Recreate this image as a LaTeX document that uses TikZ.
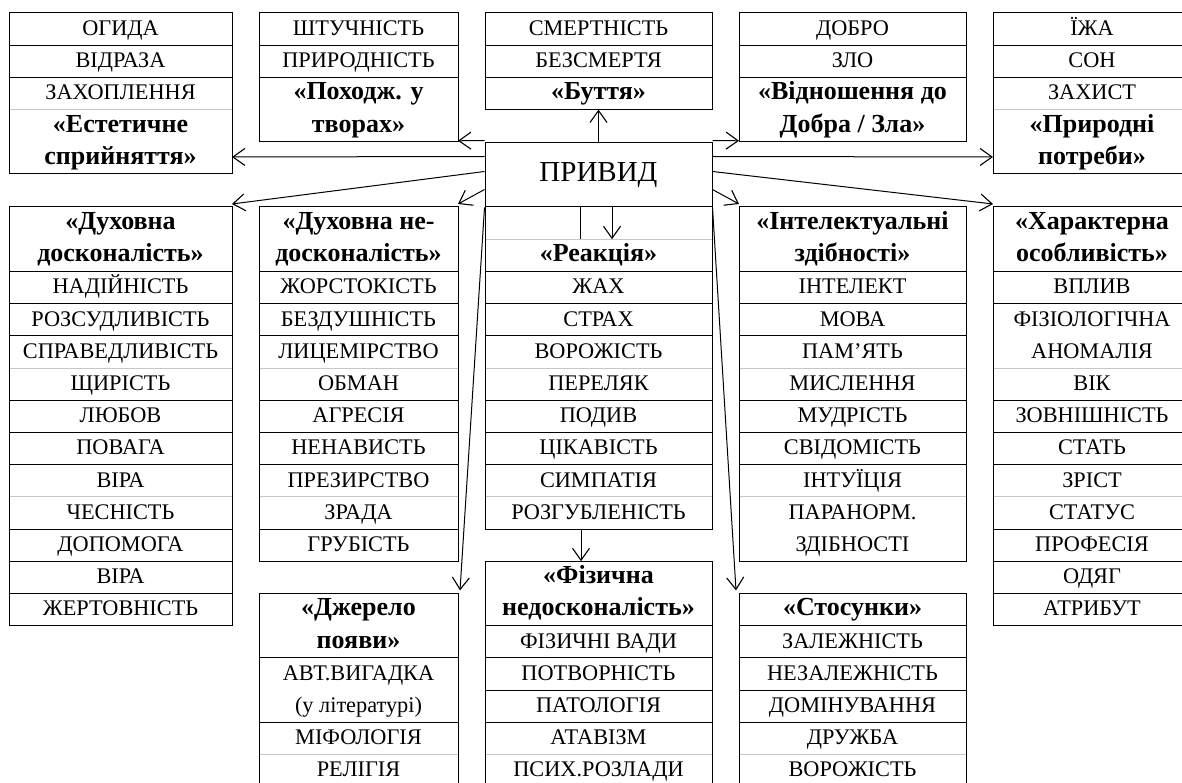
\documentclass[tikz,border=0pt]{standalone}
\usepackage{fontspec}
\setmainfont{Liberation Serif}
\usetikzlibrary{arrows.meta}
\colorlet{lk}{black}
\colorlet{lg}{black!22}
\newcommand\itf{\fontsize{22.3}{32.2}\selectfont}
\newcommand\hdf{\fontsize{26}{32.2}\selectfont\bfseries}
\def\rh{32.2}
\tikzset{
  cell/.style={align=center,inner sep=0pt,outer sep=0pt,anchor=center},
  arr/.style={line width=1pt,-{Straight Barb[length=12pt,width=17pt,line width=1.1pt]}},
  plain/.style={line width=1pt},
}
\newcommand\tcol[5]{%
 \xdef\cy{#4}%
 \foreach \nr/\txt/\fnt/\lcol [count=\i] in {#5}{%
   \pgfmathsetmacro\ny{\cy+\nr*\rh}%
   \node[cell,font=\fnt,minimum width={(#3-#2)*1pt},minimum height={\nr*\rh*1pt}] (#1-\i) at ({(#2+#3)/2},{(\cy+\ny)/2}) {\strut\txt};
   \draw[draw=\lcol,line width=1pt] (#2,\ny) -- (#3,\ny);
   \xdef\cy{\ny}%
 }%
 \draw[line width=1pt] (#2,#4) rectangle (#3,\cy);
}
\begin{document}
\begin{tikzpicture}[x=1pt,y=-1pt]
\useasboundingbox (0,0) rectangle (1182,783);
\clip (0,0) rectangle (1182,783);
\fill[white] (0,0) rectangle (1182,783);
% top row
\tcol{ta}{9}{232}{13}{1/ОГИДА/\itf/lk, 1/ВІДРАЗА/\itf/lk, 1/ЗАХОПЛЕННЯ/\itf/lg, 2/{«Естетичне\\\strut сприйняття»}/\hdf/lk}
\tcol{tb}{259}{458}{13}{1/ШТУЧНІСТЬ/\itf/lk, 1/ПРИРОДНІСТЬ/\itf/lk, 2/{«Походж. у\\\strut творах»}/\hdf/lk}
\tcol{tc}{485}{712}{13}{1/СМЕРТНІСТЬ/\itf/lk, 1/БЕЗСМЕРТЯ/\itf/lk, 1/«Буття»/\hdf/lk}
\tcol{td}{739}{966}{13}{1/ДОБРО/\itf/lk, 1/ЗЛО/\itf/lk, 2/{«Відношення до\\\strut Добра / Зла»}/\hdf/lk}
\tcol{te}{993}{1191}{13}{1/ЇЖА/\itf/lk, 1/СОН/\itf/lk, 1/ЗАХИСТ/\itf/lg, 2/{«Природні\\\strut потреби»}/\hdf/lk}
% second row
\tcol{sa}{9}{232}{207}{2/{«Духовна\\\strut досконалість»}/\hdf/lk, 1/НАДІЙНІСТЬ/\itf/lk, 1/РОЗСУДЛИВІСТЬ/\itf/lk, 1/СПРАВЕДЛИВІСТЬ/\itf/lg, 1/ЩИРІСТЬ/\itf/lk, 1/ЛЮБОВ/\itf/lk, 1/ПОВАГА/\itf/lk, 1/ВІРА/\itf/lg, 1/ЧЕСНІСТЬ/\itf/lk, 1/ДОПОМОГА/\itf/lk, 1/ВІРА/\itf/lk, 1/ЖЕРТОВНІСТЬ/\itf/lk}
\tcol{sb}{259}{458}{207}{2/{«Духовна не-\\\strut досконалість»}/\hdf/lk, 1/ЖОРСТОКІСТЬ/\itf/lk, 1/БЕЗДУШНІСТЬ/\itf/lk, 1/ЛИЦЕМІРСТВО/\itf/lg, 1/ОБМАН/\itf/lk, 1/АГРЕСІЯ/\itf/lk, 1/НЕНАВИСТЬ/\itf/lk, 1/ПРЕЗИРСТВО/\itf/lg, 1/ЗРАДА/\itf/lk, 1/ГРУБІСТЬ/\itf/lk}
\tcol{sj}{259}{458}{593.4}{2/{«Джерело\\\strut появи»}/\hdf/lk, 2/{АВТ.ВИГАДКА\\\strut (у літературі)}/\itf/lk, 1/МІФОЛОГІЯ/\itf/lg, 1/РЕЛІГІЯ/\itf/lk}
\tcol{sr}{485}{712}{207}{1/{}/\itf/lg, 1/«Реакція»/\hdf/lk, 1/ЖАХ/\itf/lk, 1/СТРАХ/\itf/lk, 1/ВОРОЖІСТЬ/\itf/lg, 1/ПЕРЕЛЯК/\itf/lk, 1/ПОДИВ/\itf/lk, 1/ЦІКАВІСТЬ/\itf/lk, 1/СИМПАТІЯ/\itf/lg, 1/РОЗГУБЛЕНІСТЬ/\itf/lk}
\tcol{sf}{485}{712}{561.2}{2/{«Фізична\\\strut недосконалість»}/\hdf/lk, 1/ФІЗИЧНІ ВАДИ/\itf/lk, 1/ПОТВОРНІСТЬ/\itf/lk, 1/ПАТОЛОГІЯ/\itf/lk, 1/АТАВІЗМ/\itf/lg, 1/ПСИХ.РОЗЛАДИ/\itf/lk}
\tcol{si}{739}{966}{207}{2/{«Інтелектуальні\\\strut здібності»}/\hdf/lk, 1/ІНТЕЛЕКТ/\itf/lk, 1/МОВА/\itf/lk, 1/ПАМ’ЯТЬ/\itf/lg, 1/МИСЛЕННЯ/\itf/lk, 1/МУДРІСТЬ/\itf/lk, 1/СВІДОМІСТЬ/\itf/lk, 1/ІНТУЇЦІЯ/\itf/lg, 2/{ПАРАНОРМ.\\\strut ЗДІБНОСТІ}/\itf/lk}
\tcol{ss}{739}{966}{593.4}{1/«Стосунки»/\hdf/lk, 1/ЗАЛЕЖНІСТЬ/\itf/lk, 1/НЕЗАЛЕЖНІСТЬ/\itf/lk, 1/ДОМІНУВАННЯ/\itf/lk, 1/ДРУЖБА/\itf/lg, 1/ВОРОЖІСТЬ/\itf/lk}
\tcol{sx}{993}{1191}{207}{2/{«Характерна\\\strut особливість»}/\hdf/lk, 1/ВПЛИВ/\itf/lk, 2/{ФІЗІОЛОГІЧНА\\\strut АНОМАЛІЯ}/\itf/lg, 1/ВІК/\itf/lk, 1/ЗОВНІШНІСТЬ/\itf/lk, 1/СТАТЬ/\itf/lk, 1/ЗРІСТ/\itf/lg, 1/СТАТУС/\itf/lk, 1/ПРОФЕСІЯ/\itf/lk, 1/ОДЯГ/\itf/lk, 1/АТРИБУТ/\itf/lk}
% central node
\node[draw,line width=1pt,minimum width=227pt,minimum height=64pt,inner sep=0pt,fill=white,font=\fontsize{29}{34}\selectfont] (pv) at (598.5,175) {ПРИВИД};
% connectors
\draw[arr] ([yshift=-14pt]pv.north west) -- ([yshift=17pt]ta-4.south east);
\draw[arr] ([yshift=2pt]pv.north west) -- ([yshift=1pt]tb-3.south east);
\draw[arr] (pv.north) -- (tc-3.south);
\draw[arr] ([yshift=2pt]pv.north east) -- ([yshift=1pt]td-3.south west);
\draw[arr] ([yshift=-14pt]pv.north east) -- ([yshift=17pt]te-4.south west);
\draw[arr] ([yshift=-29pt]pv.north west) -- ([yshift=3pt]sa-1.north east);
\draw[arr] ([yshift=-47pt]pv.north west) -- ([yshift=3pt]sb-1.north east);
\draw[arr] ([yshift=-47pt]pv.north east) -- ([yshift=3pt]si-1.north west);
\draw[arr] ([yshift=-29pt]pv.north east) -- ([yshift=3pt]sx-1.north west);
\draw[plain] ([xshift=-18.5pt]sr-1.north) -- ([xshift=-18.5pt]sr-1.south);
\draw[arr] ([xshift=13.5pt]pv.south) -- ([xshift=13.5pt]sr-1.south);
\draw[arr] (pv.south west) -- ([xshift=2pt,yshift=3pt]sj-1.north east);
\draw[arr] (pv.south east) -- ([xshift=-3pt,yshift=3pt]ss-1.north west);
\draw[arr] ([xshift=-17.5pt]sr-10.south) -- ([xshift=-17.5pt]sf-1.north);
\end{tikzpicture}
\end{document}
